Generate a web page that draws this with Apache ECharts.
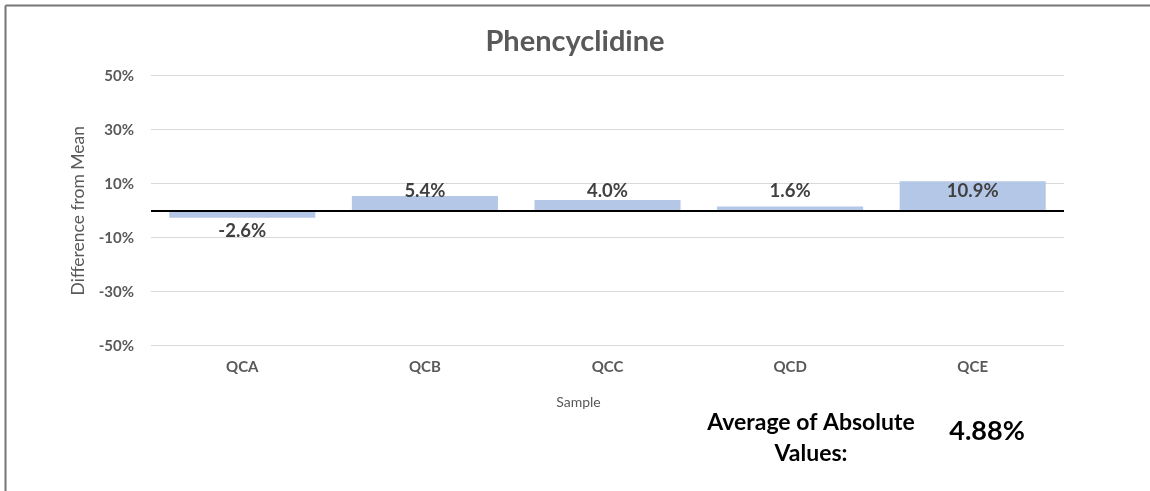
<!DOCTYPE html>
<html>
<head>
<meta charset="utf-8">
<script src="https://cdn.jsdelivr.net/npm/echarts@6/dist/echarts.min.js"></script>
<style>
  html, body { margin: 0; padding: 0; background: #fff; }
  #main { width: 1150px; height: 491px; }
</style>
</head>
<body>
<div id="main"></div>
<script>
// data
var samples = ['QCA', 'QCB', 'QCC', 'QCD', 'QCE'];
var diffs = [-2.6, 5.4, 4.0, 1.6, 10.9];
var avgAbs = '4.88%';

var font = 'Lato, "Open Sans", sans-serif';
var grey = '#595959';

var chart = echarts.init(document.getElementById('main'));

// positive labels sit just above zero, negative ones just under the bar
var barData = diffs.map(function (v) {
  if (v < 0) {
    return { value: v, label: { position: 'bottom', distance: 4 } };
  }
  return { value: v, label: { position: 'insideBottom', distance: 10 } };
});

var option = {
  backgroundColor: '#fff',
  animation: false,
  title: {
    text: 'Phencyclidine',
    left: 'center',
    top: 22,
    textStyle: { color: grey, fontSize: 29, fontWeight: 'bold', fontFamily: font }
  },
  grid: { left: 151, right: 86, top: 75.7, bottom: 145.3 },
  xAxis: {
    type: 'category',
    data: samples,
    name: 'Sample',
    nameLocation: 'middle',
    nameGap: 50,
    nameTextStyle: { color: grey, fontSize: 14, fontFamily: font, padding: [0, 58, 0, 0] },
    axisLine: { show: false },
    axisTick: { show: false },
    axisLabel: { color: grey, fontSize: 15, fontWeight: 'bold', fontFamily: font, margin: 14 }
  },
  yAxis: {
    type: 'value',
    min: -50,
    max: 50,
    interval: 20,
    name: 'Difference from Mean',
    nameLocation: 'middle',
    nameGap: 60,
    nameTextStyle: { color: grey, fontSize: 17.5, fontFamily: font },
    axisLine: { show: false },
    axisTick: { show: false },
    axisLabel: { formatter: '{value}%', color: grey, fontSize: 15, fontWeight: 'bold', fontFamily: font, margin: 17 },
    splitLine: { lineStyle: { color: '#d9d9d9', width: 1 } }
  },
  series: [{
    type: 'bar',
    data: barData,
    barCategoryGap: '20%',
    itemStyle: { color: '#b4c7e7' },
    label: {
      show: true,
      color: '#404040',
      fontSize: 18.5,
      fontWeight: 'bold',
      fontFamily: font,
      formatter: function (p) { return p.value.toFixed(1) + '%'; }
    },
    markLine: {
      silent: true,
      symbol: 'none',
      label: { show: false },
      lineStyle: { color: '#000', width: 2, type: 'solid' },
      data: [{ yAxis: 0 }]
    }
  }],
  graphic: [
    { type: 'line', shape: { x1: 5.5, y1: 5.5, x2: 1150, y2: 5.5 }, style: { stroke: '#767676', lineWidth: 2 } },
    { type: 'line', shape: { x1: 5.5, y1: 5.5, x2: 5.5, y2: 491 }, style: { stroke: '#767676', lineWidth: 2 } },
    {
      type: 'text', x: 811, y: 438,
      style: {
        text: 'Average of Absolute\nValues:',
        align: 'center', verticalAlign: 'middle',
        font: 'bold 23px ' + font, fill: '#000', lineHeight: 31
      }
    },
    {
      type: 'text', x: 987, y: 431,
      style: {
        text: avgAbs,
        align: 'center', verticalAlign: 'middle',
        font: 'bold 27px ' + font, fill: '#000'
      }
    }
  ]
};

chart.setOption(option);
</script>
</body>
</html>
